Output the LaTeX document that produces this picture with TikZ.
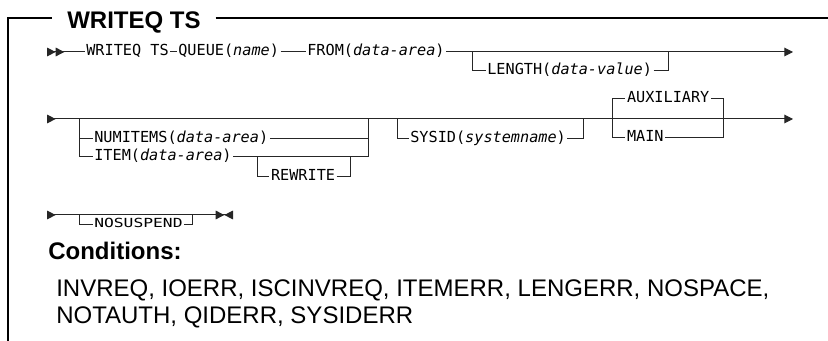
\documentclass[tikz,border=0pt]{standalone}
\usepackage{fontspec}
\setmainfont{Liberation Sans}
\newfontfamily\syn{DejaVu Sans Mono}
\newfontfamily\synsmall[FakeStretch=1.3]{DejaVu Sans Mono}
\usepackage{tikz}
\usetikzlibrary{arrows.meta}
\definecolor{RailGray}{HTML}{262626}
\tikzset{
  fwd/.tip={Triangle[length=6.5pt, width=6.5pt]},
  bwd/.tip={Triangle[reversed, length=6.5pt, width=6.5pt]}
}

\begin{document}
\begin{tikzpicture}[
  x=0.75pt, y=-0.75pt,
  frame/.style={draw=black, line width=1.5pt},
  rail/.style={draw=RailGray, line width=0.75pt},
  kw/.style={anchor=west, inner xsep=1pt, inner ysep=0pt, text height=8.25pt, text depth=2.25pt, font=\syn\fontsize{11.4}{13}\selectfont},
  kwsmall/.style={kw, text height=6.75pt, text depth=2.25pt, font=\synsmall\fontsize{9.4}{11}\selectfont},
  head/.style={anchor=base, inner xsep=11pt, inner ysep=0pt, font=\fontsize{18}{21}\selectfont\bfseries},
  cond/.style={anchor=base west, inner sep=0pt, font=\fontsize{18}{21}\selectfont}
]
\useasboundingbox (0,0) rectangle (828,341);

% frame and title
\node[head] (title) at (134,28.5) {WRITEQ TS};
\coordinate (ftl) at (8,18);
\coordinate (fbl) at (8,341);
\coordinate (ftr) at (828,18);
\draw[frame] (fbl) -- (ftl) -- (ftl -| title.west);
\draw[frame] (title.east |- ftl) -- (ftr);

% row 1
\coordinate (r1s) at (47,52);
\coordinate (r1e) at (793,52);
\node[kw] (wq) at (84.7,52) {WRITEQ TS};
\node[kw] (queue) at (176.7,52) {QUEUE(\textit{name})};
\node[kw] (from) at (305.7,52) {FROM(\textit{data-area})};
\node[kw] (len) at (485.7,71) {LENGTH(\textit{data-value})};
\coordinate (ln1) at (472,52);
\coordinate (ln2) at (668,52);
\draw[rail, {bwd[]bwd[]}-] (r1s) -- (wq);
\draw[rail] (wq) -- (queue);
\draw[rail] (queue) -- (from);
\draw[rail, -{fwd[]}] (from) -- (r1e);
\draw[rail] (ln1) |- (len);
\draw[rail] (len) -| (ln2);

% row 2
\coordinate (r2s) at (47,119);
\coordinate (r2e) at (793,119);
\draw[rail, {bwd[]}-{fwd[]}] (r2s) -- (r2e);
\coordinate (ga1) at (79,119);
\coordinate (ga2) at (368,119);
\node[kw] (numitems) at (92.7,139) {NUMITEMS(\textit{data-area})};
\node[kw] (item) at (92.7,157) {ITEM(\textit{data-area})};
\draw[rail] (ga1) |- (numitems);
\draw[rail] (ga1) |- (item);
\draw[rail] (numitems) -| (ga2);
\draw[rail] (item) -| (ga2);
\coordinate (rw1) at (257,157);
\coordinate (rw2) at (350,157);
\node[kw] (rewrite) at (269.4,177) {REWRITE};
\draw[rail] (rw1) |- (rewrite);
\draw[rail] (rewrite) -| (rw2);
\coordinate (sy1) at (397,119);
\coordinate (sy2) at (583,119);
\node[kw] (sysid) at (408.7,139) {SYSID(\textit{systemname})};
\draw[rail] (sy1) |- (sysid);
\draw[rail] (sysid) -| (sy2);
\coordinate (am1) at (612,119);
\coordinate (am2) at (723,119);
\node[kw] (aux) at (625.4,99) {AUXILIARY};
\node[kw] (main) at (625.4,138) {MAIN};
\draw[rail] (am1) |- (aux);
\draw[rail] (aux) -| (am2);
\draw[rail] (am1) |- (main);
\draw[rail] (main) -| (am2);

% row 3
\coordinate (r3s) at (47,215);
\coordinate (r3e) at (233,215);
\draw[rail, {bwd[]}-{fwd[]bwd[]}] (r3s) -- (r3e);
\coordinate (ns1) at (79,215);
\coordinate (ns2) at (192,215);
\node[kwsmall] (nosusp) at (92.7,225) {NOSUSPEND};
\draw[rail] (ns1) |- (nosusp);
\draw[rail] (nosusp) -| (ns2);

% conditions
\node[cond, font=\fontsize{18}{21}\selectfont\bfseries] (condhead) at (48,260) {Conditions:};
\node[cond] (cond1) at (56,296.5) {INVREQ, IOERR, ISCINVREQ, ITEMERR, LENGERR, NOSPACE,};
\node[cond] (cond2) at (56,324) {NOTAUTH, QIDERR, SYSIDERR};
\end{tikzpicture}
\end{document}
